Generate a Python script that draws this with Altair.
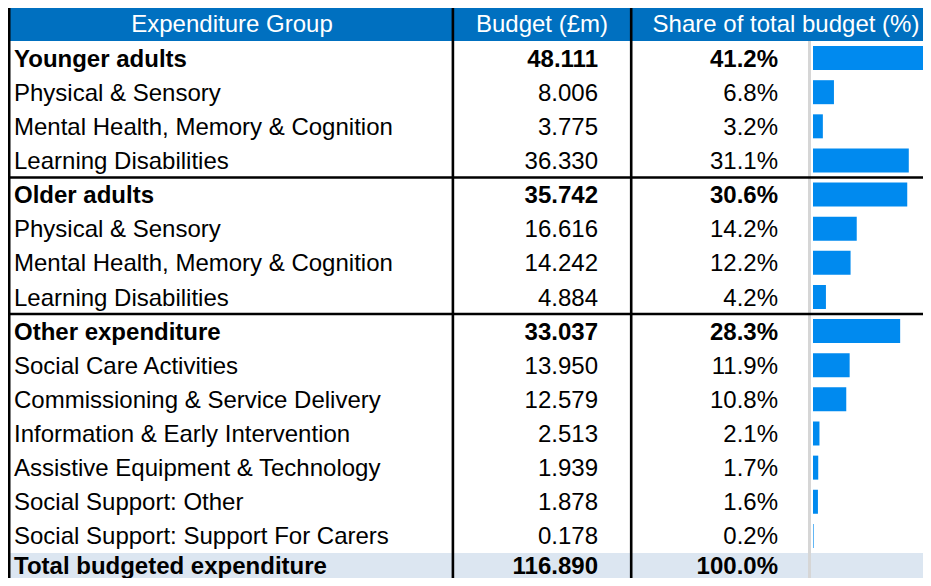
import altair as alt
import pandas as pd

labels = [
    "Younger adults",
    "Physical & Sensory",
    "Mental Health, Memory & Cognition",
    "Learning Disabilities",
    "Older adults",
    "Physical & Sensory",
    "Mental Health, Memory & Cognition",
    "Learning Disabilities",
    "Other expenditure",
    "Social Care Activities",
    "Commissioning & Service Delivery",
    "Information & Early Intervention",
    "Assistive Equipment & Technology",
    "Social Support: Other",
    "Social Support: Support For Carers",
    "Total budgeted expenditure",
]
budget = [48.111, 8.006, 3.775, 36.330, 35.742, 16.616, 14.242, 4.884,
          33.037, 13.950, 12.579, 2.513, 1.939, 1.878, 0.178, 116.890]
share = [41.2, 6.8, 3.2, 31.1, 30.6, 14.2, 12.2, 4.2,
         28.3, 11.9, 10.8, 2.1, 1.7, 1.6, 0.2, 100.0]
bold = [True, False, False, False, True, False, False, False,
        True, False, False, False, False, False, False, True]
headers = ["Expenditure Group", "Budget (£m)", "Share of total budget (%)"]
section_starts = [4, 8]

# ---- layout ----
W, H = 915, 570
TOP = 33
ROW_H = 34.13
N = len(labels)
TOTAL = N - 1
FONT = "Liberation Sans"
FS = 24

df = pd.DataFrame({
    "row": list(range(N)),
    "label": labels,
    "budget": budget,
    "share": share,
    "bold": bold,
})
df["budget_txt"] = [f"{v:.3f}" for v in budget]
df["share_txt"] = [f"{v:.1f}%" for v in share]

yscale = alt.Scale(domain=list(range(N)), range=[TOP, TOP + N * ROW_H],
                   paddingInner=0, paddingOuter=0)
Y = alt.Y("row:O", scale=yscale, axis=None)

base = alt.Chart(df)
one = alt.Chart(pd.DataFrame({"k": [0]}))

layers = []

# header background
layers.append(one.mark_rect(color="#0070C0").encode(
    x=alt.value(0), x2=alt.value(W), y=alt.value(0), y2=alt.value(TOP)))

# total row background
layers.append(base.transform_filter(f"datum.row == {TOTAL}").mark_rect(color="#DCE6F1").encode(
    x=alt.value(0), x2=alt.value(W), y=Y))

# grey data-bar axis line
layers.append(one.mark_rule(color="#D6D6D6", strokeWidth=3).encode(
    x=alt.value(801.5), y=alt.value(TOP), y2=alt.value(H)))

# data bars
layers.append(base.transform_filter(f"datum.row < {TOTAL}").mark_bar(
    color="#008AEF", size=24, clip=True).encode(
    x=alt.X("share:Q", scale=alt.Scale(domain=[0, 100], range=[805, 805 + 308]), axis=None),
    y=Y))

# section separator lines
sec = alt.Chart(pd.DataFrame({"row": section_starts}))
layers.append(sec.mark_rule(color="black", strokeWidth=2.5).encode(
    y=alt.Y("row:O", scale=yscale, axis=None, bandPosition=0),
    x=alt.value(0), x2=alt.value(W)))

# vertical column borders
for xv in [1.2, 444.9, 623.2]:
    layers.append(one.mark_rule(color="black", strokeWidth=2.6).encode(
        x=alt.value(xv), y=alt.value(0), y2=alt.value(H)))

# header texts
for txt, xc in zip(headers, [224, 534, 778]):
    layers.append(one.mark_text(text=txt, font=FONT, fontSize=FS, color="white",
                                align="center", baseline="alphabetic").encode(
        x=alt.value(xc), y=alt.value(24)))

# body texts
cols = [("label", 6, "left"), ("budget_txt", 590, "right"), ("share_txt", 770, "right")]
groups = [
    (f"datum.bold && datum.row < {TOTAL}", "bold", 8.6),
    ("!datum.bold", "normal", 8.6),
    (f"datum.row == {TOTAL}", "bold", 3.6),
]
for field, xv, al in cols:
    for flt, weight, dy in groups:
        layers.append(base.transform_filter(flt).mark_text(
            font=FONT, fontSize=FS, color="black", align=al, baseline="alphabetic",
            dy=dy, fontWeight=weight).encode(
            x=alt.value(xv), y=Y, text=alt.Text(f"{field}:N")))

chart = alt.layer(*layers).properties(
    width=W, height=H, autosize="none", padding=0, background="white"
).configure_view(stroke=None)

chart.save("out.html", embed_options={"renderer": "svg", "actions": False})
